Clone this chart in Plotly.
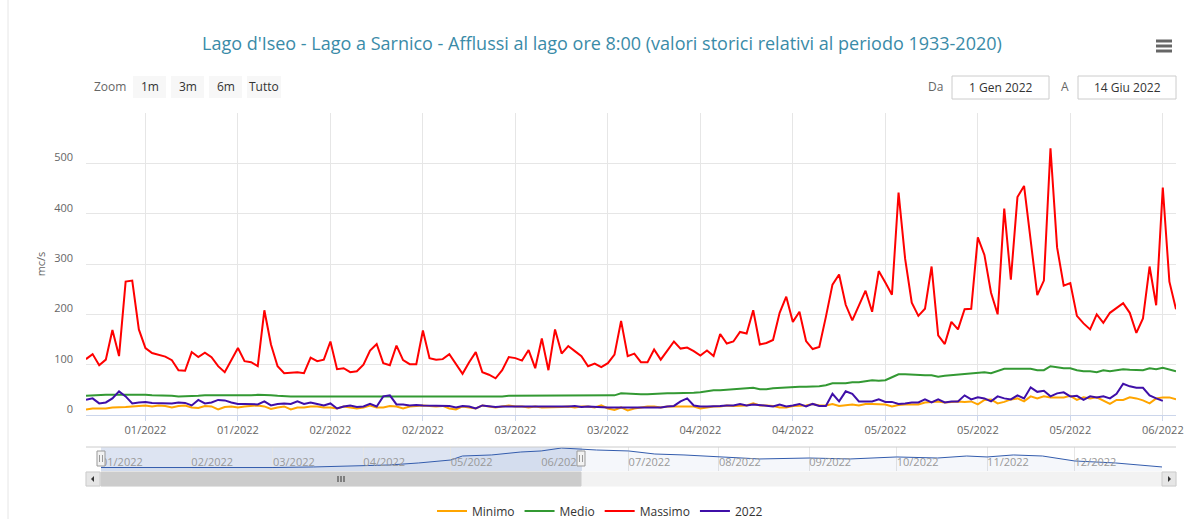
import plotly.graph_objects as go
import pandas as pd

# ---------------- data (m3/s, daily from 1 Jan 2022) ----------------
start_date = "2022-01-01"

minimo = [11, 13, 13, 13, 15, 15, 16, 17, 18, 19, 17, 19, 18, 15, 18, 19, 15, 14, 18, 17,
          11, 16, 17, 15, 17, 18, 19, 17, 12, 15, 17, 11, 15, 15, 17, 17, 15, 15, 13, 17,
          15, 13,
          15, 19, 15, 15, 18, 17, 13, 17, 18, 19, 18, 17, 18, 13, 11, 17, 15, 13, 19, 17,
          15, 17, 19, 17, 17, 15, 17, 15, 15, 15, 16, 17, 15, 17, 17, 15, 19, 13, 10, 15, 9,
          13, 15, 17, 17, 15, 17, 17, 17, 18, 17, 13, 15, 17, 17, 19, 18, 19, 19, 23, 19,
          19, 18, 15, 15, 18, 19, 19, 22, 19, 19, 22, 18, 19, 21, 19, 22, 22, 21, 21, 17,
          20, 21, 21, 21, 25, 26, 27, 25, 26, 27, 26, 27, 21, 30, 31, 23, 26, 31, 33, 27,
          37, 33, 37, 35, 35, 35, 38, 30, 35, 33, 35, 29, 22, 30, 30, 35, 33, 29, 23, 33,
          35, 35, 31]

medio = [38, 39, 39, 40, 40, 40, 41, 41, 41, 40, 39, 39, 39, 38, 37, 37, 38, 38, 39, 39,
         38, 38, 38, 38, 38, 39, 40, 40, 39, 38, 37, 37, 37, 37, 37, 37, 37, 37, 37, 37,
         37, 37,
         37, 37, 37, 37, 36, 36, 36, 36, 37, 37, 37, 37, 37, 37, 37, 37, 37, 37, 37, 37,
         37, 37, 38, 38, 38, 38, 38, 38, 38, 38, 39, 39, 39, 38, 38, 38, 38, 38, 39, 43, 42,
         42, 41, 41, 42, 43, 43, 43, 43, 44, 44, 45, 47, 49, 49, 50, 50, 51, 53, 54, 51,
         51, 53, 54, 55, 56, 56, 56, 56, 57, 59, 63, 63, 63, 65, 65, 67, 69, 68, 69, 75,
         81, 81, 80, 79, 79, 79, 76, 78, 79, 81, 82, 83, 84, 85, 83, 87, 92, 92, 92, 91,
         92, 89, 89, 97, 95, 93, 93, 89, 87, 87, 85, 89, 87, 89, 91, 90, 89, 89, 93, 91,
         94, 91, 87]

massimo = [111, 121, 99, 110, 169, 117, 265, 267, 170, 133, 123, 119, 116, 109, 89, 88, 125, 115, 124, 115,
           97, 85, 110, 133, 107, 105, 97, 208, 140, 97, 83, 84, 85, 83, 114, 107, 110, 146, 91, 93,
           85, 87,
           100, 128, 141, 103, 99, 138, 109, 101, 101, 168, 113, 110, 111, 121, 101, 82, 105, 125, 85, 80,
           73, 89, 115, 113, 108, 129, 93, 152, 89, 170, 122, 137, 127, 117, 97, 102, 95, 103, 120, 187, 117,
           122, 105, 105, 130, 110, 128, 146, 132, 134, 127, 118, 128, 117, 161, 142, 146, 165, 162, 208, 140,
           143, 149, 203, 235, 185, 205, 147, 131, 135, 195, 259, 279, 219, 188, 217, 247, 205, 286, 263, 239,
           442, 310, 223, 197, 211, 295, 158, 141, 185, 170, 210, 211, 353, 318, 243, 200, 410, 269, 433, 455,
           347, 238, 267, 530, 333, 257, 262, 197, 182, 170, 200, 183, 203, 213, 222, 203, 163, 192, 295, 218,
           452, 265, 210]

anno2022 = [30, 33, 23, 25, 33, 47, 37, 23, 25, 26, 24, 24, 23, 23, 25, 24, 19, 30, 23, 25,
            30, 29, 25, 22, 22, 21, 21, 27, 19, 22, 23, 22, 27, 22, 25, 22, 19, 23, 13, 17,
            19, 16,
            17, 22, 17, 37, 39, 21, 21, 19, 20, 19, 19, 18, 19, 18, 15, 18, 17, 13, 19, 17,
            16, 17, 17, 17, 16, 17, 16, 16, 17, 16, 16, 17, 18, 16, 17, 16, 15, 15, 15, 15, 15,
            15, 15, 15, 15, 15, 17, 18, 27, 33, 19, 17, 17, 17, 18, 19, 19, 22, 19, 21, 20,
            19, 17, 21, 17, 19, 22, 17, 22, 18, 18, 42, 27, 47, 42, 27, 27, 27, 31, 26, 26,
            22, 23, 25, 25, 31, 25, 31, 25, 27, 27, 39, 31, 35, 33, 27, 37, 33, 31, 39, 33,
            55, 46, 48, 37, 43, 45, 37, 38, 30, 37, 35, 37, 33, 42, 62, 57, 54, 54, 39, 33,
            28]

# navigator overview (whole year, first series) read at coarse dates
nav_dates = ["2022-01-01", "2022-01-15", "2022-02-01", "2022-02-15", "2022-03-01", "2022-03-15",
             "2022-04-01", "2022-04-10", "2022-04-20", "2022-05-01", "2022-05-05", "2022-05-15",
             "2022-05-25", "2022-06-01", "2022-06-08", "2022-06-14", "2022-06-20", "2022-07-01",
             "2022-07-10", "2022-07-20", "2022-08-01", "2022-08-15", "2022-09-01", "2022-09-15",
             "2022-10-01", "2022-10-15", "2022-10-25", "2022-11-01", "2022-11-10", "2022-11-20",
             "2022-12-01", "2022-12-15", "2022-12-31"]
nav_values = [12.6, 12.6, 12.0, 12.0, 12.6, 13.3, 14.5, 15.8, 18.3, 22.0, 27.0, 28.3,
              32.0, 33.3, 37.0, 35.8, 34.5, 33.3, 29.5, 28.3, 25.8, 23.3, 24.5, 23.3,
              25.8, 24.5, 27.0, 25.8, 28.3, 27.0, 20.8, 18.3, 13.3]

series_names = ["Minimo", "Medio", "Massimo", "2022"]
series_colors = ["#FFA500", "#339933", "#FF0000", "#3F0FA8"]
y_ticks = [0, 100, 200, 300, 400, 500, 600]
y_ticktext = ["0", "100", "200", "300", "400", "500", ""]

title_text = "Lago d'Iseo - Lago a Sarnico - Afflussi al lago ore 8:00 (valori storici relativi al periodo 1933-2020)"

# ---------------- geometry helpers (pixel -> paper) ----------------
W, H = 1192, 519
L, R, T, B = 86, 1176, 113, 487


def px(x):
    return (x - L) / (R - L)


def py(y):
    return (B - y) / (B - T)


FONT = "Open Sans, DejaVu Sans, sans-serif"

dates_hist = pd.date_range(start_date, periods=len(minimo), freq="D")
dates_2022 = pd.date_range(start_date, periods=len(anno2022), freq="D")

fig = go.Figure()
for name, color, vals, dts in zip(series_names, series_colors,
                                  [minimo, medio, massimo, anno2022],
                                  [dates_hist, dates_hist, dates_hist, dates_2022]):
    fig.add_trace(go.Scatter(x=dts, y=vals, name=name, mode="lines",
                             line=dict(color=color, width=2),
                             xaxis="x", yaxis="y"))

# navigator series
fig.add_trace(go.Scatter(x=pd.to_datetime(nav_dates), y=nav_values, mode="lines",
                         line=dict(color="#335cad", width=1), fill="tozeroy",
                         fillcolor="rgba(51,92,173,0.05)", showlegend=False,
                         hoverinfo="skip", xaxis="x2", yaxis="y2"))

shapes = []
annotations = []

# navigator mask (selected range)
shapes.append(dict(type="rect", xref="x2", yref="paper", x0="2022-01-01", x1="2022-06-15",
                   y0=py(471), y1=py(447), fillcolor="rgba(102,133,194,0.22)",
                   line=dict(width=0), layer="below"))
# navigator outline
shapes.append(dict(type="line", xref="paper", yref="paper", x0=px(86), x1=px(1176),
                   y0=py(447), y1=py(447), line=dict(color="#cccccc", width=1)))

# navigator handles
for hx in [101, 581]:
    shapes.append(dict(type="rect", xref="paper", yref="paper", x0=px(hx - 4), x1=px(hx + 4),
                       y0=py(466), y1=py(451), fillcolor="#f2f2f2",
                       line=dict(color="#999999", width=1)))
    for dx in (-1.5, 1.5):
        shapes.append(dict(type="line", xref="paper", yref="paper", x0=px(hx + dx), x1=px(hx + dx),
                           y0=py(462), y1=py(455), line=dict(color="#999999", width=1)))

# scrollbar
shapes.append(dict(type="rect", xref="paper", yref="paper", x0=px(86), x1=px(1176),
                   y0=py(486), y1=py(472), fillcolor="#f2f2f2", line=dict(color="#f2f2f2", width=1)))
shapes.append(dict(type="rect", xref="paper", yref="paper", x0=px(101), x1=px(581),
                   y0=py(486), y1=py(472), fillcolor="#cccccc", line=dict(color="#cccccc", width=1)))
for bx0, bx1 in [(86, 100), (1162, 1176)]:
    shapes.append(dict(type="rect", xref="paper", yref="paper", x0=px(bx0), x1=px(bx1),
                       y0=py(486), y1=py(472), fillcolor="#e6e6e6", line=dict(color="#cccccc", width=1)))
# arrows
shapes.append(dict(type="path", xref="paper", yref="paper",
                   path=f"M {px(91)} {py(479)} L {px(94)} {py(476)} L {px(94)} {py(482)} Z",
                   fillcolor="#333333", line=dict(width=0)))
shapes.append(dict(type="path", xref="paper", yref="paper",
                   path=f"M {px(1171)} {py(479)} L {px(1168)} {py(476)} L {px(1168)} {py(482)} Z",
                   fillcolor="#333333", line=dict(width=0)))
for rx in (338, 341, 344):
    shapes.append(dict(type="line", xref="paper", yref="paper", x0=px(rx), x1=px(rx),
                       y0=py(482), y1=py(476), line=dict(color="#333333", width=1)))

# range selector buttons
annotations.append(dict(text="Zoom", xref="paper", yref="paper", x=px(128), y=py(87),
                        xanchor="right", yanchor="middle", showarrow=False,
                        font=dict(family=FONT, size=12, color="#666666")))
for label, bx0, bx1 in [("1m", 133, 166), ("3m", 171, 204), ("6m", 209, 242), ("Tutto", 247, 281)]:
    shapes.append(dict(type="rect", xref="paper", yref="paper", x0=px(bx0), x1=px(bx1),
                       y0=py(98), y1=py(76), fillcolor="#f7f7f7", line=dict(width=0)))
    annotations.append(dict(text=label, xref="paper", yref="paper", x=px((bx0 + bx1) / 2), y=py(87),
                            xanchor="center", yanchor="middle", showarrow=False,
                            font=dict(family=FONT, size=12, color="#333333")))

# date inputs
annotations.append(dict(text="Da", xref="paper", yref="paper", x=px(945), y=py(87),
                        xanchor="right", yanchor="middle", showarrow=False,
                        font=dict(family=FONT, size=12, color="#666666")))
annotations.append(dict(text="A", xref="paper", yref="paper", x=px(1071), y=py(87),
                        xanchor="right", yanchor="middle", showarrow=False,
                        font=dict(family=FONT, size=12, color="#666666")))
for label, bx0, bx1 in [("1 Gen 2022", 952, 1049), ("14 Giu 2022", 1078, 1176)]:
    shapes.append(dict(type="rect", xref="paper", yref="paper", x0=px(bx0), x1=px(bx1),
                       y0=py(99), y1=py(76), fillcolor="#ffffff", line=dict(color="#cccccc", width=1)))
    annotations.append(dict(text=label, xref="paper", yref="paper", x=px((bx0 + bx1) / 2), y=py(87.5),
                            xanchor="center", yanchor="middle", showarrow=False,
                            font=dict(family=FONT, size=12, color="#333333")))

# hamburger menu
for hy in (41, 46, 51):
    shapes.append(dict(type="line", xref="paper", yref="paper", x0=px(1156), x1=px(1172),
                       y0=py(hy), y1=py(hy), line=dict(color="#666666", width=3)))

# container left border
shapes.append(dict(type="line", xref="paper", yref="paper", x0=px(8), x1=px(8),
                   y0=py(0), y1=py(519), line=dict(color="#e6e6e6", width=1)))

# title (centered on the chart container)
annotations.append(dict(text=title_text, xref="paper", yref="paper", x=px(601.5), y=py(43),
                        xanchor="center", yanchor="middle", showarrow=False,
                        font=dict(family=FONT, size=18, color="#3a8ba8")))

fig.update_layout(
    width=W, height=H,
    margin=dict(l=L, r=W - R, t=T, b=H - B, autoexpand=False),
    paper_bgcolor="white", plot_bgcolor="white",
    showlegend=True,
    legend=dict(orientation="h", x=px(600), xanchor="center", y=py(511), yanchor="middle",
                font=dict(family=FONT, size=12, color="#333333"), bgcolor="rgba(0,0,0,0)"),
    hovermode="x unified",
    xaxis=dict(domain=[0, 1], anchor="y", type="date",
               range=["2022-01-01", "2022-06-15"],
               tick0="2022-01-10", dtick=14 * 86400000, tickformat="%m/%Y",
               showgrid=True, gridcolor="#e6e6e6", gridwidth=1,
               showline=True, linecolor="#ccd6eb", linewidth=1,
               ticks="outside", ticklen=5, tickcolor="#ccd6eb",
               tickfont=dict(family=FONT, size=11, color="#666666"),
               zeroline=False),
    yaxis=dict(domain=[py(415), 1], anchor="x", range=[0, 600],
               tickvals=y_ticks, ticktext=y_ticktext,
               showgrid=True, gridcolor="#e6e6e6", gridwidth=1, zeroline=False,
               ticklabelshift=-6, ticklabelstandoff=12,
               tickfont=dict(family=FONT, size=11, color="#666666"),
               title=dict(text="mc/s", standoff=6, font=dict(family=FONT, size=11, color="#666666"))),
    xaxis2=dict(domain=[px(101), px(1162)], anchor="y2", type="date",
                range=["2022-01-01", "2022-12-31"],
                tick0="2022-01-01", dtick="M1", tickformat="%m/%Y",
                ticklabelposition="inside right", ticklabelstandoff=-3,
                showgrid=True, gridcolor="#e6e6e6", showline=False, ticks="",
                tickfont=dict(family=FONT, size=11, color="#999999"),
                zeroline=False, fixedrange=True),
    yaxis2=dict(domain=[py(471), py(447)], anchor="x2", range=[8.25, 38.25],
                showgrid=False, showticklabels=False, zeroline=False, fixedrange=True),
    shapes=shapes,
    annotations=annotations,
)

fig.write_html("out.html", config={"displayModeBar": False},
               post_script="document.body.style.margin='0px';")
